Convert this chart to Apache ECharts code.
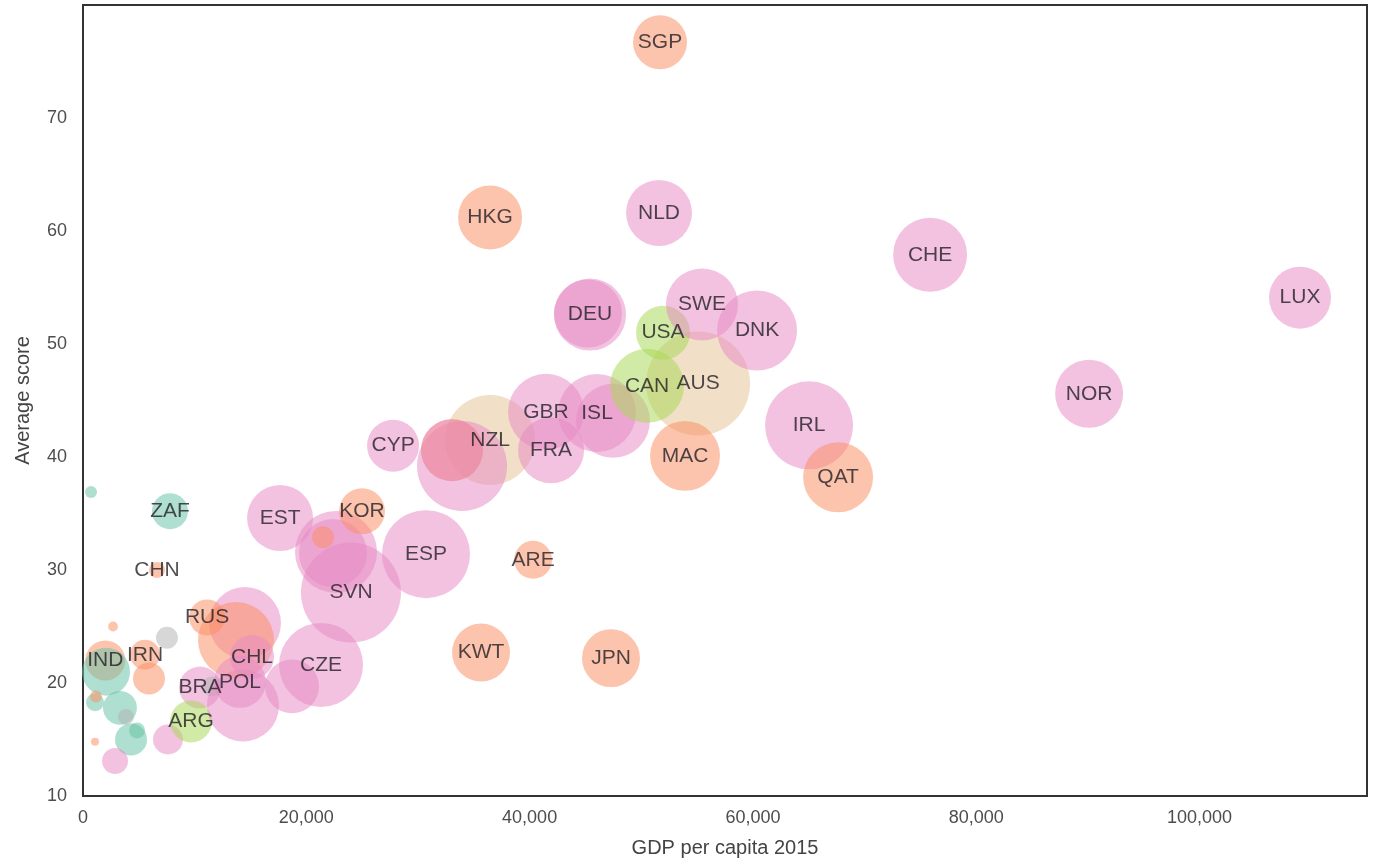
<!DOCTYPE html>
<html>
<head>
<meta charset="utf-8">
<script src="https://cdn.jsdelivr.net/npm/echarts@6/dist/echarts.min.js"></script>
<style>
html,body{margin:0;padding:0;background:#fff;}
#chart{width:1374px;height:864px;}
</style>
</head>
<body>
<div id="chart"></div>
<script>
// Country codes ('' = unlabeled bubble)
const codes = ['', 'ZAF', 'CHN', '', 'IND', 'IRN', '', '', '', '', '', '', '', '', '', '', '', '',
  'BRA', '', 'ARG', '', '', '', 'RUS', 'CHL', 'POL', '', 'CZE', 'SVN', '', '', '', 'EST', 'KOR', 'ESP', 'CYP',
  'NZL', '', '', '', 'ARE', 'KWT', 'JPN', 'HKG', 'SGP', 'NLD', 'GBR', 'FRA', 'ISL', '', 'AUS', 'CAN', 'USA',
  'DEU', '', 'SWE', 'DNK', 'MAC', 'IRL', 'QAT', 'CHE', 'NOR', 'LUX'];
// GDP per capita 2015
const gdp = [717, 7790, 6630, 2690, 2000, 5550, 5910, 2060, 3310, 4300, 1075, 1160, 3850, 4840, 1075, 7520, 2870, 7610,
  10480, 11560, 9670, 14330, 14510, 13700, 11110, 15140, 14060, 18720, 21320, 24000, 22660, 22390, 21500, 17650, 24990, 30720, 27770,
  36460, 33950, 33050, 33050, 40310, 35650, 47290, 36460, 51680, 51590, 41470, 41920, 46040, 47470, 55090, 50520, 51950,
  45410, 45230, 55440, 60370, 53920, 65030, 67630, 75870, 90110, 109000];
// Average score
const score = [36.9, 35.2, 30.0, 25.0, 22.0, 22.5, 20.4, 21.0, 17.8, 15.0, 18.3, 18.8, 17.0, 15.8, 14.8, 24.0, 13.1, 15.0,
  19.6, 19.7, 16.6, 18.0, 25.3, 23.8, 25.8, 22.3, 20.1, 19.7, 21.6, 28.0, 31.6, 31.5, 32.9, 34.6, 35.2, 31.4, 41.0,
  41.5, 39.2, 40.6, 40.6, 30.9, 22.7, 22.2, 61.2, 76.7, 61.6, 44.0, 40.6, 43.9, 43.2, 46.5, 46.3, 51.0,
  52.6, 52.7, 53.5, 51.2, 40.1, 42.8, 38.2, 57.9, 45.6, 54.1];
// Bubble weight (third dimension)
const weight = [9, 81, 16, 6, 100, 56, 64, 144, 72, 64, 20, 9, 16, 16, 4, 30, 42, 56,
  110, 25, 110, 324, 324, 361, 81, 121, 169, 182, 441, 625, 420, 289, 30, 272, 132, 484, 169,
  506, 506, 240, 240, 90, 210, 210, 256, 182, 272, 361, 272, 380, 342, 676, 342, 182,
  324, 289, 324, 400, 306, 484, 306, 342, 289, 240];
// Colour group (index into palette)
const group = [0, 0, 1, 1, 1, 1, 1, 0, 0, 0, 0, 1, 7, 0, 1, 7, 3, 3,
  3, 7, 4, 3, 3, 1, 1, 3, 3, 3, 3, 3, 3, 3, 1, 3, 1, 3, 3,
  6, 3, 1, 3, 1, 1, 1, 1, 1, 3, 3, 3, 3, 3, 6, 4, 4,
  3, 3, 3, 3, 1, 3, 1, 3, 3, 3];

const palette = ['#66c2a5', '#fc8d62', '#8da0cb', '#e78ac3', '#a6d854', '#ffd92f', '#e5c494', '#b3b3b3'];
const xTicks = [0, 20000, 40000, 60000, 80000, 100000];
const yTicks = [10, 20, 30, 40, 50, 60, 70];

function rgba(hex, a) {
  const n = parseInt(hex.slice(1), 16);
  return 'rgba(' + ((n >> 16) & 255) + ',' + ((n >> 8) & 255) + ',' + (n & 255) + ',' + a + ')';
}

const data = codes.map((c, i) => ({
  name: c,
  value: [gdp[i], score[i], weight[i]],
  itemStyle: { color: rgba(palette[group[i]], 0.65) },
  label: { show: c !== '' }
}));

const chart = echarts.init(document.getElementById('chart'), null, { renderer: 'canvas' });
const font = "'Liberation Sans', Arial, sans-serif";
chart.setOption({
  animation: false,
  backgroundColor: '#ffffff',
  grid: { left: 83, right: 7, top: 5, bottom: 68, show: true, borderColor: '#333333', borderWidth: 2, backgroundColor: 'transparent' },
  xAxis: {
    type: 'value', min: 0, max: 115000, interval: 20000,
    name: 'GDP per capita 2015', nameLocation: 'middle', nameGap: 42,
    nameTextStyle: { fontFamily: font, fontSize: 20, color: '#444' },
    axisLine: { show: false }, axisTick: { show: false }, splitLine: { show: false },
    axisLabel: {
      margin: 13, fontFamily: font, fontSize: 18, color: '#4d4d4d', showMaxLabel: false,
      formatter: v => xTicks.includes(v) ? v.toLocaleString('en-US') : ''
    }
  },
  yAxis: {
    type: 'value', min: 10, max: 80, interval: 10,
    name: 'Average score', nameLocation: 'middle', nameGap: 50,
    nameTextStyle: { fontFamily: font, fontSize: 20, color: '#444' },
    axisLine: { show: false }, axisTick: { show: false }, splitLine: { show: false },
    axisLabel: {
      margin: 16, fontFamily: font, fontSize: 18, color: '#4d4d4d', showMaxLabel: false,
      formatter: v => yTicks.includes(v) ? String(v) : ''
    }
  },
  series: [{
    type: 'scatter',
    data: data,
    symbolSize: v => Math.sqrt(v[2]) * 4,
    emphasis: { disabled: true },
    label: {
      position: 'inside', formatter: p => p.name,
      fontFamily: font, fontSize: 21, color: '#221e24'
    },
    labelLayout: { hideOverlap: false }
  }]
});
</script>
</body>
</html>
